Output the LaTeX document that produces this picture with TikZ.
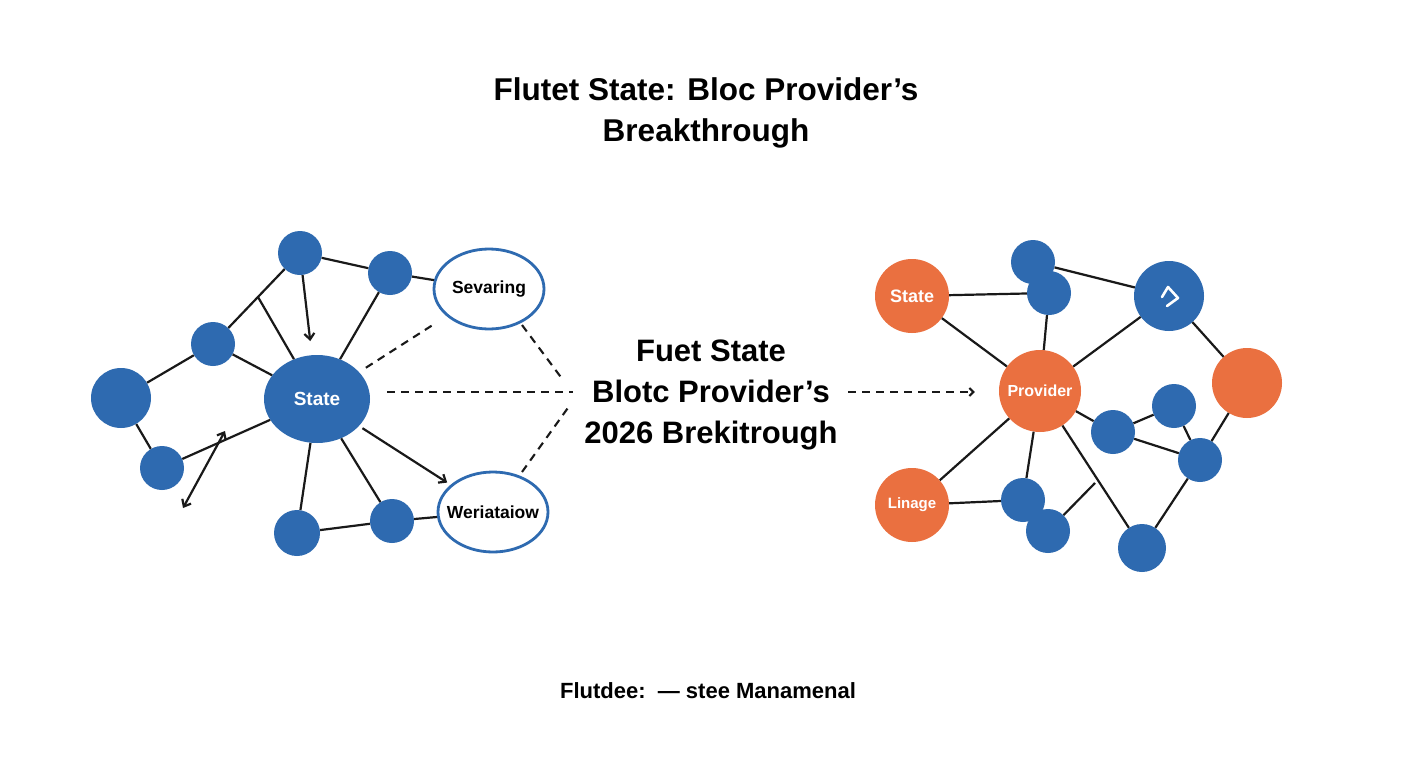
\documentclass[tikz,border=0pt]{standalone}
\usepackage{fontspec}
\setmainfont{Liberation Sans}
\usetikzlibrary{arrows.meta,shapes.geometric}
\definecolor{nblue}{RGB}{46,106,176}
\definecolor{norange}{RGB}{234,112,64}
\begin{document}
\begin{tikzpicture}[x=1pt,y=-1pt,
  edge/.style={draw=black!90,line width=2.2pt},
  dshd/.style={draw=black!90,line width=2.1pt,dash pattern=on 8pt off 6pt},
  arr/.style={-{Straight Barb[length=6pt,width=10pt]}},
  bdot/.style={circle,fill=nblue,inner sep=0pt,minimum size=#1},
  odot/.style={circle,fill=norange,inner sep=0pt,minimum size=#1,text=white,font=\bfseries\fontsize{18}{20}\selectfont},
  oval/.style={ellipse,draw=nblue,line width=2.8pt,fill=white,minimum width=110pt,minimum height=80pt,inner xsep=-12pt,inner ysep=0pt,font=\bfseries\fontsize{17.5}{19}\selectfont}
]
\useasboundingbox (0,0) rectangle (1408,768);
\fill[white] (0,0) rectangle (1408,768);

% Title
\node[font=\bfseries\fontsize{31.5}{41}\selectfont,align=center] (title) at (706,113) {Flutet State: Bloc Provider’s\\Breakthrough};

\coordinate (stray) at (258,297);
\coordinate (da1) at (183,508);
\coordinate (da2) at (225,431);

% Left cluster nodes
\node[bdot=44pt] (A) at (300,253) {};
\node[bdot=44pt] (B) at (390,273) {};
\node[bdot=44pt] (C) at (213,344) {};
\node[bdot=60pt] (D) at (121,398) {};
\node[bdot=44pt] (E) at (162,468) {};
\node[ellipse,fill=nblue,minimum width=106pt,minimum height=88pt,inner sep=0pt,text=white,font=\bfseries\fontsize{19}{21}\selectfont] (S) at (317,399) {State};
\node[bdot=46pt] (F) at (297,533) {};
\node[bdot=44pt] (G) at (392,521) {};
\node[oval] (SV) at (489,289) {Sevaring};
\node[oval] (WR) at (493,512) {Weriataiow};

% Left edges
\draw[edge] (A) -- (B);
\draw[edge] (A) -- (C);
\draw[edge] (stray) -- (S);
\draw[edge,arr,shorten >=14pt] (A) -- (S);
\draw[edge] (B) -- (S);
\draw[edge] (C) -- (S);
\draw[edge] (C) -- (D);
\draw[edge] (D) -- (E);
\draw[edge] (E) -- (S);
\draw[edge,{Straight Barb[length=6pt,width=10pt]}-{Straight Barb[length=6pt,width=10pt]}] (da1) -- (da2);
\draw[edge] (S) -- (F);
\draw[edge] (S) -- (G);
\draw[edge] (F) -- (G);
\draw[edge] (G) -- (WR);
\draw[edge] (B) -- (SV);
\draw[edge,arr,shorten <=4pt,shorten >=4pt] (S) -- (WR);
\draw[dshd,shorten <=8pt,shorten >=14pt] (S) -- (SV);

% Middle text
\node[font=\bfseries\fontsize{31}{41}\selectfont,align=center] (mid) at (711,395) {Fuet State\\Blotc Provider’s\\2026 Brekitrough};

\coordinate (m1) at (573,392);
\coordinate (m2) at (563,380);
\coordinate (m3) at (570,405);
\coordinate (sv1) at (522,325);
\coordinate (wr1) at (522,472);
\draw[dshd,shorten <=17pt] (S.east |- m1) -- (m1);
\draw[dshd] (sv1) -- (m2);
\draw[dshd] (wr1) -- (m3);

% Right cluster nodes
\node[odot=74pt] (RS) at (912,296) {State};
\node[bdot=44pt] (T1) at (1033,262) {};
\node[bdot=44pt] (T2) at (1049,293) {};
\node[bdot=70pt] (IC) at (1169,296) {};
\node[odot=70pt] (OR) at (1247,383) {};
\node[odot=82pt,font=\bfseries\fontsize{16}{18}\selectfont] (P) at (1040,391) {Provider};
\node[bdot=44pt] (M1) at (1113,432) {};
\node[bdot=44pt] (M2) at (1174,406) {};
\node[bdot=44pt] (M3) at (1200,460) {};
\node[odot=74pt,font=\bfseries\fontsize{15}{17}\selectfont] (L) at (912,505) {Linage};
\node[bdot=44pt] (B1) at (1023,500) {};
\node[bdot=44pt] (B2) at (1048,531) {};
\node[bdot=48pt] (B3) at (1142,548) {};
\coordinate (jn) at (1095,483);

% Right edges
\draw[edge] (RS) -- (T2);
\draw[edge] (RS) -- (P);
\draw[edge] (T1) -- (IC);
\draw[edge] (T2) -- (P);
\draw[edge] (P) -- (IC);
\draw[edge] (IC) -- (OR);
\draw[edge] (OR) -- (M3);
\draw[edge] (P) -- (M1);
\draw[edge] (M1) -- (M2);
\draw[edge] (M1) -- (M3);
\draw[edge] (M2) -- (M3);
\draw[edge] (M3) -- (B3);
\draw[edge] (P) -- (B3);
\draw[edge] (P) -- (B1);
\draw[edge] (P) -- (L);
\draw[edge] (L) -- (B1);
\draw[edge] (B2) -- (jn);

% icon in big blue node
\draw[white,line width=2.6pt,line cap=round,line join=round] (1162,297) -- (1168,287) -- (1178,298) -- (1167,306);

% dashed arrow
\coordinate (ra) at (848,392);
\draw[dshd,-{Straight Barb[length=4pt,width=8pt]},shorten >=24pt] (ra) -- (P.west |- ra);

% Footer
\node[font=\bfseries\fontsize{22}{24}\selectfont] (foot) at (708,691) {Flutdee:\ \ — stee Manamenal};
\end{tikzpicture}
\end{document}
